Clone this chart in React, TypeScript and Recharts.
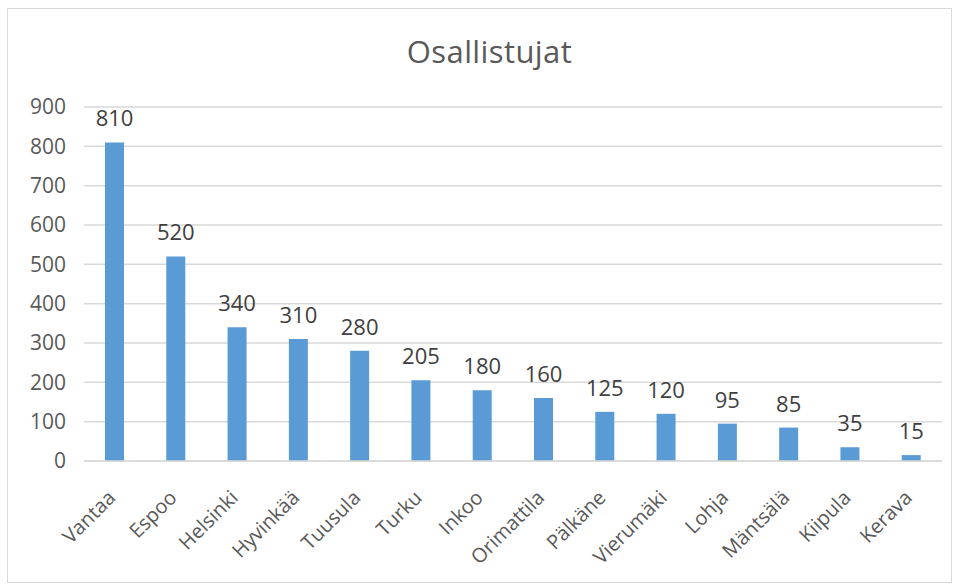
import React from "react";
import { BarChart, Bar, XAxis, YAxis, CartesianGrid, LabelList } from "recharts";

const categories = ["Vantaa", "Espoo", "Helsinki", "Hyvinkää", "Tuusula", "Turku", "Inkoo", "Orimattila", "Pälkäne", "Vierumäki", "Lohja", "Mäntsälä", "Kiipula", "Kerava"];
const values = [810, 520, 340, 310, 280, 205, 180, 160, 125, 120, 95, 85, 35, 15];
const yTicks = [0, 100, 200, 300, 400, 500, 600, 700, 800, 900];
const title = "Osallistujat";

const data = categories.map((name, i) => ({ name, value: values[i] }));

const FONT = "'Open Sans', sans-serif";
const TXT = "#595959";

const XTick = (props: any) => {
  const { x, y, payload } = props;
  return (
    <g transform={`translate(${x + 2},${y + 38})`}>
      <text x={0} y={0} textAnchor="end" fill={TXT} fontSize={20} fontFamily={FONT} transform="rotate(-45)">
        {payload.value}
      </text>
    </g>
  );
};

export default function App() {
  return (
    <div style={{ position: "absolute", left: 7, top: 8, width: 945, height: 575, border: "1px solid #d9d9d9", boxSizing: "border-box", background: "#fff" }}>
      <div style={{ position: "absolute", left: 10, width: 943, top: 21, textAlign: "center", fontFamily: FONT, fontSize: 31, letterSpacing: 0.4, color: TXT }}>{title}</div>
      <BarChart width={943} height={573} data={data} margin={{ top: 98, right: 9, bottom: 11, left: 26 }} barCategoryGap="34%">
        <CartesianGrid vertical={false} stroke="#d9d9d9" strokeWidth={1.5} />
        <XAxis dataKey="name" interval={0} tickLine={false} tickSize={0} tickMargin={0} axisLine={{ stroke: "#d9d9d9", strokeWidth: 1.5 }} height={110} tick={<XTick />} />
        <YAxis domain={[0, 900]} ticks={yTicks} width={50} tickLine={false} axisLine={false} tickMargin={12} tick={{ fill: TXT, fontSize: 21, fontFamily: FONT }} />
        <Bar dataKey="value" fill="#5B9BD5" barSize={19} isAnimationActive={false}>
          <LabelList dataKey="value" position="top" offset={16} fill="#404040" fontSize={22} fontFamily={FONT} />
        </Bar>
      </BarChart>
    </div>
  );
}
